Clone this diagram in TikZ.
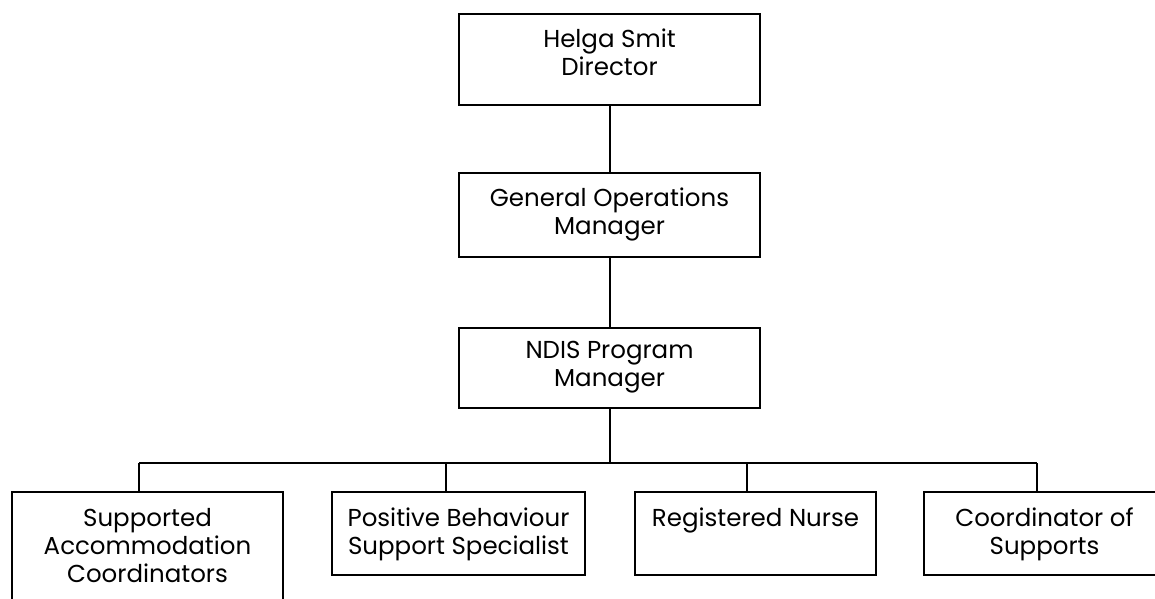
\documentclass[tikz,border=0pt]{standalone}
\usepackage{fontspec}
\setmainfont{Poppins}
\usetikzlibrary{positioning}

\begin{document}
\begin{tikzpicture}
[x=1pt, y=-1pt,
post/.style={draw, line width=2pt, inner sep=0pt},
title/.style={align=center, inner sep=0pt, anchor=north, font=\fontsize{24.5}{28}\selectfont},
link/.style={line width=2pt}
]
  \useasboundingbox (0,0) rectangle (1155,598);

  \node[post, minimum width=301pt, minimum height=91pt] (dir)  at (609.5,59.5) {};
  \node[post, minimum width=301pt, minimum height=84pt] (gom)  at (609.5,215)  {};
  \node[post, minimum width=301pt, minimum height=80pt] (ndis) at (609.5,368)  {};

  \node[post, minimum width=271pt, minimum height=128pt] (sac) at (147.5,556)   {};
  \node[post, minimum width=253pt, minimum height=83pt]  (pbs) at (458.5,533.5) {};
  \node[post, minimum width=241pt, minimum height=83pt]  (rn)  at (755.5,533.5) {};
  \node[post, minimum width=241pt, minimum height=83pt]  (cos) at (1044.5,533.5) {};

  \node[title] (dirT)  at ([yshift=-16pt]dir.north)  {Helga Smit\\Director};
  \node[title] (gomT)  at ([yshift=-16pt]gom.north)  {General Operations\\Manager};
  \node[title] (ndisT) at ([yshift=-14pt]ndis.north) {NDIS Program\\Manager};
  \node[title] (sacT)  at ([yshift=-17pt]sac.north)  {Supported\\Accommodation\\Coordinators};
  \node[title] (pbsT)  at ([yshift=-17pt]pbs.north)  {Positive Behaviour\\Support Specialist};
  \node[title] (rnT)   at ([yshift=-17pt]rn.north)   {Registered Nurse};
  \node[title] (cosT)  at ([yshift=-17pt]cos.north)  {Coordinator of\\Supports};

  % bus under the program manager
  \coordinate (d1) at (139,463);
  \coordinate (d2) at (446,463);
  \coordinate (d3) at (747,463);
  \coordinate (d4) at (1037,463);

  \draw[link] (dir.south) -- (gom.north);
  \draw[link] (gom.south) -- (ndis.north);
  \draw[link] (ndis.south) -- (ndis.south |- d1);
  \draw[link] (d1) -- (d4);
  \draw[link] (d1) -- (d1 |- sac.north);
  \draw[link] (d2) -- (d2 |- pbs.north);
  \draw[link] (d3) -- (d3 |- rn.north);
  \draw[link] (d4) -- (d4 |- cos.north);
\end{tikzpicture}
\end{document}
